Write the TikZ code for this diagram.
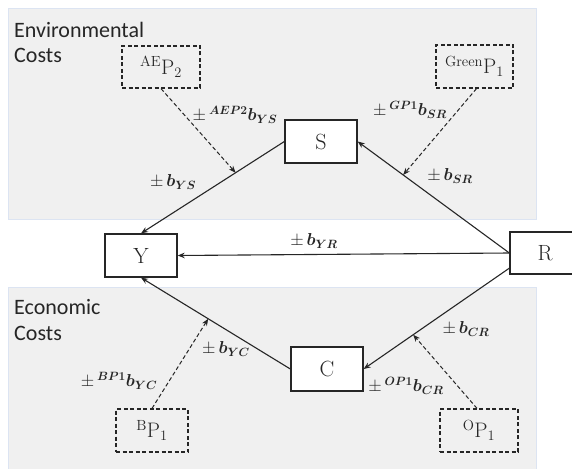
\documentclass[tikz,border=0pt]{standalone}
\usepackage{amsmath,bm}
\usepackage{fontspec}
\newfontfamily\labfont{Carlito}
\usetikzlibrary{arrows.meta,calc}
\definecolor{panelfill}{HTML}{F0F0F0}
\definecolor{paneledge}{HTML}{DCE4F2}
\definecolor{ink}{HTML}{262626}
\tikzset{
  panel/.style={fill=panelfill,draw=paneledge,line width=1pt},
  varbox/.style={draw=ink,line width=1.3pt,fill=white,minimum width=72pt,minimum height=43pt,inner sep=0pt,font=\fontsize{22}{24}\selectfont,text=ink},
  pbox/.style={draw=ink,line width=1.2pt,dash pattern=on 4pt off 2.5pt,minimum width=77pt,minimum height=42pt,inner sep=0pt,font=\fontsize{21}{24}\selectfont,text=ink},
  conn/.style={draw=ink,line width=1.1pt,-{Stealth[length=7pt,width=5.5pt]}},
  dconn/.style={draw=ink,line width=1pt,dash pattern=on 4pt off 2.5pt,-{Stealth[length=7pt,width=5.5pt]}},
  coef/.style={text=ink,inner sep=0pt,font=\fontsize{17}{19}\selectfont},
  area/.style={text=ink,inner sep=0pt,anchor=west,align=left,font=\labfont\fontsize{22}{26}\selectfont}
}
\begin{document}
\begin{tikzpicture}[x=1pt,y=-1pt]
\useasboundingbox (0,0) rectangle (572,468);
% panels
\path[panel] (8.5,8.5) rectangle (536.5,219.5);
\path[panel] (8.5,287.5) rectangle (536.5,475);
\node[area] (envlab) at (14,30) {Environmental};
\node[area] (envcost) at (14,55) {Costs};
\node[area] (ecolab) at (14,307) {Economic};
\node[area] (ecocost) at (14,333) {Costs};
% variable boxes
\node[varbox] (Y) at (141,255.5) {Y};
\node[varbox] (S) at (321,141.5) {S};
\node[varbox,minimum height=44pt] (C) at (327,369) {C};
\node[varbox,minimum width=70pt,minimum height=42pt] (R) at (545,253) {R};
% parameter boxes
\node[pbox,minimum width=78pt] (AE) at (161,67) {$^{\mathrm{AE}}\mathrm{P}_2$};
\node[pbox,minimum height=43pt] (G) at (474.5,66.5) {$^{\mathrm{Green}}\mathrm{P}_1$};
\node[pbox,minimum width=72pt,minimum height=43pt] (B) at (152,430.5) {$^{\mathrm{B}}\mathrm{P}_1$};
\node[pbox,minimum width=78pt,minimum height=43pt] (O) at (479,430.5) {$^{\mathrm{O}}\mathrm{P}_1$};
% connectors
\coordinate (Rlow) at ($(R.west)!0.7!(R.south west)$);
\draw[conn] (S.west) -- (Y.north);
\draw[conn] (R.west) -- (S.east);
\draw[conn] (R.west) -- (Y.east);
\draw[conn] (Rlow) -- (C.east);
\draw[conn] (C.west) -- (Y.south);
\coordinate (mSY) at ($(S.west)!0.34!(Y.north)$);
\coordinate (mRS) at ($(R.west)!0.70!(S.east)$);
\coordinate (mCY) at ($(C.west)!0.55!(Y.south)$);
\coordinate (mRC) at ($(Rlow)!0.66!(C.east)$);
\draw[dconn] (AE.south) -- (mSY);
\draw[dconn] ([xshift=2pt]G.south) -- (mRS);
\draw[dconn] (B.north) -- (mCY);
\draw[dconn] ([xshift=-2pt]O.north) -- (mRC);
% coefficient labels
\node[coef] (lYS) at (173,182) {$\pm\,\bm{b}_{\bm{YS}}$};
\node[coef] (lAE) at (235,115) {$\pm\,{}^{\bm{AEP2}}\bm{b}_{\bm{YS}}$};
\node[coef] (lGP) at (410,110) {$\pm\,{}^{\bm{GP1}}\bm{b}_{\bm{SR}}$};
\node[coef] (lSR) at (450,176) {$\pm\,\bm{b}_{\bm{SR}}$};
\node[coef] (lYR) at (314,241) {$\pm\,\bm{b}_{\bm{YR}}$};
\node[coef] (lCR) at (466,329) {$\pm\,\bm{b}_{\bm{CR}}$};
\node[coef] (lOP) at (406,386) {$\pm\,{}^{\bm{OP1}}\bm{b}_{\bm{CR}}$};
\node[coef] (lYC) at (226,349) {$\pm\,\bm{b}_{\bm{YC}}$};
\node[coef] (lBP) at (119,381) {$\pm\,{}^{\bm{BP1}}\bm{b}_{\bm{YC}}$};
\end{tikzpicture}
\end{document}
